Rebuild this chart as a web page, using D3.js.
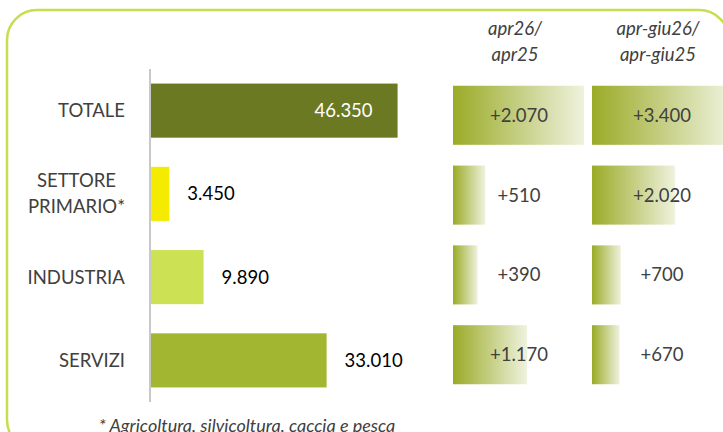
<!DOCTYPE html>
<html>
<head>
<meta charset="utf-8">
<script src="https://cdn.jsdelivr.net/npm/d3@7"></script>
<style>
  body { margin: 0; background: #fff; }
  svg { display: block; font-family: Lato, "Open Sans", sans-serif; }
</style>
</head>
<body>
<div id="chart"></div>
<script>
// data
var categories = ["TOTALE", "SETTORE\nPRIMARIO*", "INDUSTRIA", "SERVIZI"];
var values = [46350, 3450, 9890, 33010];
var diffMonth = [2070, 510, 390, 1170];
var diffQuarter = [3400, 2020, 700, 670];
var headers = [["apr26/", "apr25"], ["apr-giu26/", "apr-giu25"]];
var footnote = "* Agricoltura, silvicoltura, caccia e pesca";

function init() {
    var w = 723, h = 432;
    var it = d3.formatLocale({ decimal: ",", thousands: ".", grouping: [3], currency: ["€", ""] });
    var fmt = it.format(",d");
    var fmtPlus = it.format("+,d");

    var svg = d3.select("#chart").append("svg")
        .attr("width", w)
        .attr("height", h);

    // frame
    svg.append("rect")
        .attr("x", 7).attr("y", 10)
        .attr("width", 722).attr("height", 440)
        .attr("rx", 30).attr("ry", 30)
        .attr("fill", "none")
        .attr("stroke", "#c9dd4f")
        .attr("stroke-width", 2.5);

    var color = d3.scaleOrdinal()
        .domain(categories)
        .range(["#6b7a22", "#f5eb00", "#cde155", "#a2b631"]);

    // left bar chart
    var y = d3.scaleBand()
        .domain(categories)
        .range([69, 402])
        .paddingInner(0.35)
        .paddingOuter(0.175);

    var x = d3.scaleLinear()
        .domain([0, 50000])
        .range([151, 417]);

    svg.selectAll("rect.bar")
        .data(values)
        .enter()
        .append("rect")
        .attr("class", "bar")
        .attr("x", x(0))
        .attr("y", function(d, i) { return y(categories[i]); })
        .attr("width", function(d) { return x(d) - x(0); })
        .attr("height", y.bandwidth())
        .attr("fill", function(d, i) { return color(categories[i]); });

    // vertical axis line
    svg.append("line")
        .attr("x1", 150).attr("x2", 150)
        .attr("y1", y.range()[0]).attr("y2", y.range()[1])
        .attr("stroke", "#c8c8c8")
        .attr("stroke-width", 2);

    // category labels (right aligned block, lines centred)
    var labels = svg.selectAll("text.cat")
        .data(categories)
        .enter()
        .append("text")
        .attr("class", "cat")
        .attr("fill", "#404040")
        .attr("font-size", 18.5)
        .attr("text-anchor", "middle");

    labels.each(function(d) {
        var lines = d.split("\n");
        var t = d3.select(this);
        var cy = y(d) + y.bandwidth() / 2;
        lines.forEach(function(l, k) {
            t.append("tspan")
                .attr("x", 0)
                .attr("y", cy + 6.5 + (k - (lines.length - 1) / 2) * 26)
                .text(l);
        });
        var bw = this.getBBox().width;
        t.selectAll("tspan").attr("x", 125 - bw / 2);
    });

    // value labels
    svg.selectAll("text.val")
        .data(values)
        .enter()
        .append("text")
        .attr("class", "val")
        .attr("font-size", 18.5)
        .attr("y", function(d, i) { return y(categories[i]) + y.bandwidth() / 2 + 6.5; })
        .attr("x", function(d, i) { return i === 0 ? x(d) - 25 : x(d) + 18; })
        .attr("text-anchor", function(d, i) { return i === 0 ? "end" : "start"; })
        .attr("fill", function(d, i) { return i === 0 ? "#ffffff" : "#000000"; })
        .text(function(d) { return fmt(d); });

    // gradient for variation boxes
    var grad = svg.append("defs").append("linearGradient")
        .attr("id", "varGrad")
        .attr("x1", "0").attr("x2", "1").attr("y1", "0").attr("y2", "0");
    grad.append("stop").attr("offset", "0").attr("stop-color", "#9aab27");
    grad.append("stop").attr("offset", "1").attr("stop-color", "#eff2de");

    // right side variation columns
    var yv = d3.scaleBand()
        .domain(categories)
        .range([65, 405])
        .padding(0.26);

    var cols = [
        { data: diffMonth, scale: d3.scaleLinear().domain([0, 2070]).range([453, 584]), cx: 519, head: headers[0] },
        { data: diffQuarter, scale: d3.scaleLinear().domain([0, 3400]).range([592, 732]), cx: 662, head: headers[1] }
    ];

    cols.forEach(function(c, ci) {
        var g = svg.append("g").attr("class", "col" + ci);

        g.selectAll("rect")
            .data(c.data)
            .enter()
            .append("rect")
            .attr("x", c.scale(0))
            .attr("y", function(d, i) { return yv(categories[i]); })
            .attr("width", function(d) { return c.scale(d) - c.scale(0); })
            .attr("height", yv.bandwidth())
            .attr("fill", "url(#varGrad)");

        g.selectAll("text.v")
            .data(c.data)
            .enter()
            .append("text")
            .attr("class", "v")
            .attr("x", c.cx)
            .attr("y", function(d, i) { return yv(categories[i]) + yv.bandwidth() / 2 + 6.5; })
            .attr("text-anchor", "middle")
            .attr("font-size", 18.5)
            .attr("fill", "#404040")
            .text(function(d) { return fmtPlus(d); });

        g.selectAll("text.h")
            .data(c.head)
            .enter()
            .append("text")
            .attr("class", "h")
            .attr("x", c.cx - 4)
            .attr("y", function(d, i) { return 35 + i * 26; })
            .attr("text-anchor", "middle")
            .attr("font-size", 18.5)
            .attr("font-style", "italic")
            .attr("fill", "#404040")
            .text(function(d) { return d; });
    });

    // footnote
    svg.append("text")
        .attr("x", 247)
        .attr("y", 432)
        .attr("text-anchor", "middle")
        .attr("font-size", 18)
        .attr("font-style", "italic")
        .attr("fill", "#404040")
        .text(footnote);
}

window.onload = init;
</script>
</body>
</html>
